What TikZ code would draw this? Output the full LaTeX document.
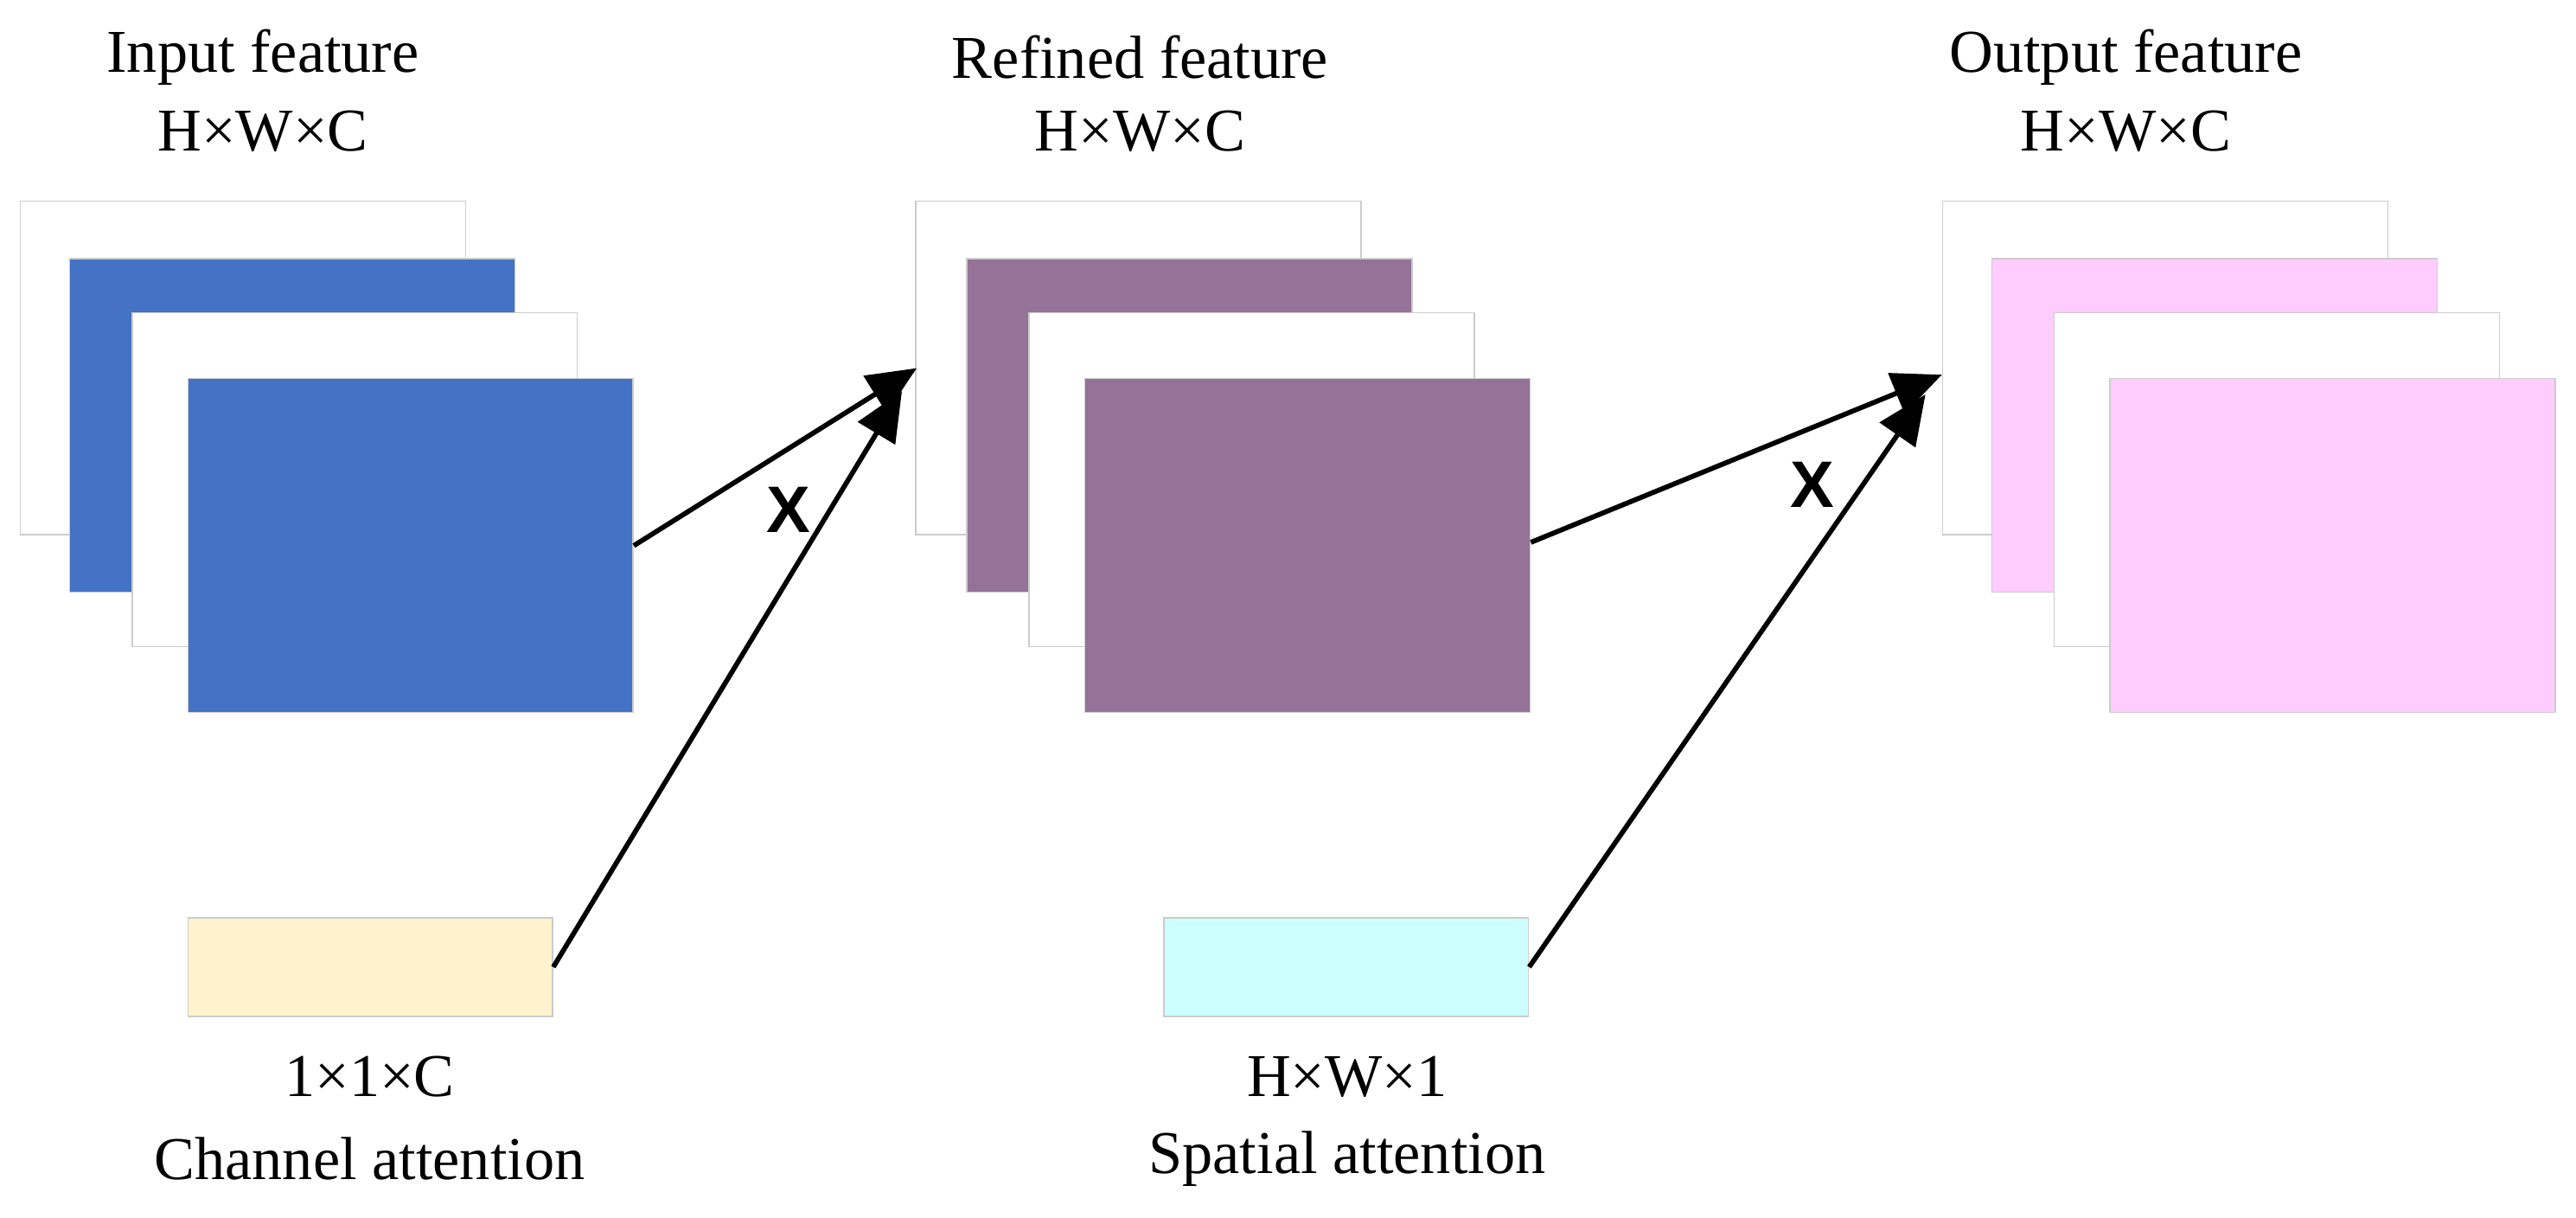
\documentclass[tikz,border=0pt]{standalone}
\usepackage{fontspec}
\setmainfont{Liberation Serif}
\newfontfamily\sansx{Liberation Sans}
\usetikzlibrary{arrows.meta}
\definecolor{cblue}{HTML}{4472C4}
\definecolor{cpurp}{HTML}{957398}
\definecolor{cpink}{HTML}{FFCCFF}
\definecolor{cyel}{HTML}{FFF2CC}
\definecolor{ccyan}{HTML}{CCFFFF}
\begin{document}
\begin{tikzpicture}[x=1pt,y=-1pt,
  box/.style={draw=black!20,line width=0.8pt,anchor=north west,inner sep=0pt,minimum width=271pt,minimum height=203pt},
  sbox/.style={draw=black!20,line width=0.8pt,anchor=north west,inner sep=0pt,minimum width=222pt,minimum height=60pt},
  lbl/.style={font=\fontsize{37}{40}\selectfont,inner sep=0pt},
  xl/.style={font=\sansx\bfseries\fontsize{40}{44}\selectfont,inner sep=0pt},
  arr/.style={line width=3pt,-{Triangle[length=30pt,width=26pt]}}]
\useasboundingbox (0,0) rectangle (1568,741);
% input
\node[box,fill=white] (i1) at (12,122) {};
\node[box,fill=cblue] (i2) at (42,157) {};
\node[box,fill=white] (i3) at (80,190) {};
\node[box,fill=cblue] (i4) at (114,230) {};
% refined
\node[box,fill=white] (r1) at (557,122) {};
\node[box,fill=cpurp] (r2) at (588,157) {};
\node[box,fill=white] (r3) at (626,190) {};
\node[box,fill=cpurp] (r4) at (660,230) {};
% output
\node[box,fill=white] (o1) at (1182,122) {};
\node[box,fill=cpink] (o2) at (1212,157) {};
\node[box,fill=white] (o3) at (1250,190) {};
\node[box,fill=cpink] (o4) at (1284,230) {};
% attention
\node[sbox,fill=cyel] (ca) at (114,558) {};
\node[sbox,fill=ccyan] (sa) at (708,558) {};
% labels
\node[lbl] (t1) at (160,35) {Input feature};
\node[lbl] (t2) at (160,80) {H×W×C};
\node[lbl] (t3) at (694,35) {Refined feature};
\node[lbl] (t4) at (694,80) {H×W×C};
\node[lbl] (t5) at (1294,35) {Output feature};
\node[lbl] (t6) at (1294,80) {H×W×C};
\node[lbl] (t7) at (225,655) {1×1×C};
\node[lbl] (t8) at (225,705) {Channel attention};
\node[lbl] (t9) at (820,655) {H×W×1};
\node[lbl] (t10) at (820,705) {Spatial attention};
\node[xl] (x1) at (480,310) {X};
\node[xl] (x2) at (1103,295) {X};
% arrows
\coordinate (a1) at (558,224);
\coordinate (a2) at (549,238);
\coordinate (b1) at (1182,228);
\coordinate (b2) at (1172,240);
\draw[arr] (i4.east |- 0,332) -- (a1);
\draw[arr] (ca.east) -- (a2);
\draw[arr] (r4.east |- 0,330) -- (b1);
\draw[arr] (sa.east) -- (b2);
\end{tikzpicture}
\end{document}
